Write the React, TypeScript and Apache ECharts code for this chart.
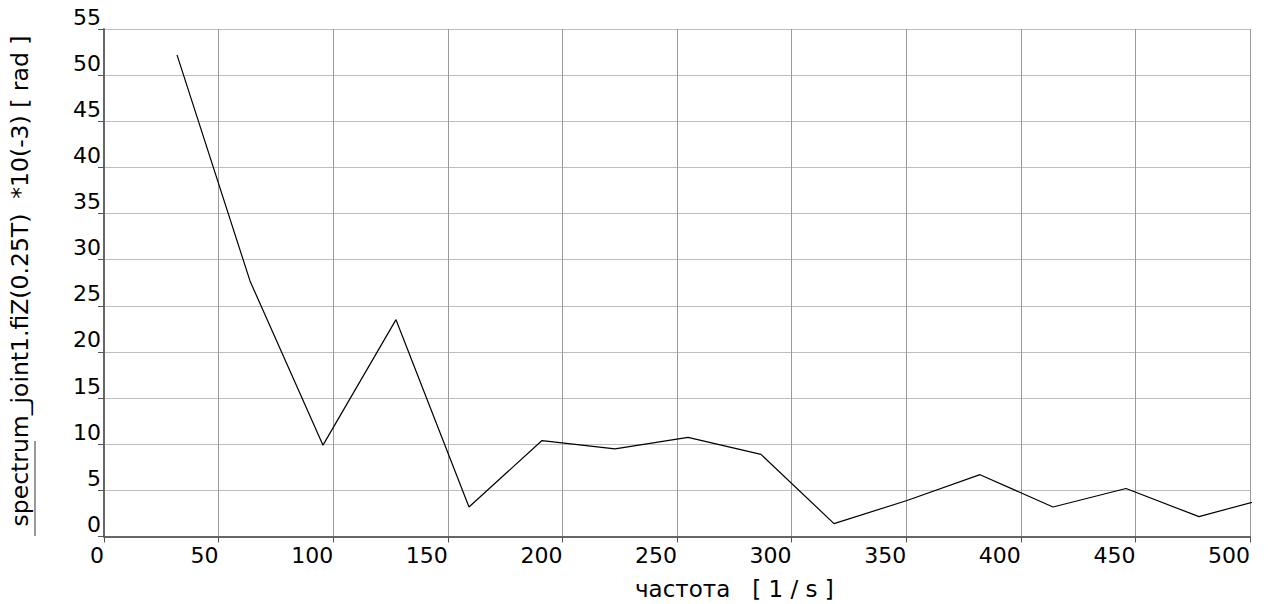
import React, { useEffect, useRef } from "react";
import * as echarts from "echarts";

const frequencies = [31.85, 63.7, 95.55, 127.4, 159.25, 191.1, 222.95, 254.8, 286.65, 318.5, 350.35, 382.2, 414.05, 445.9, 477.75, 509.6];
const amplitudes = [52.2, 27.7, 9.9, 23.5, 3.2, 10.4, 9.5, 10.75, 8.9, 1.4, 3.9, 6.7, 3.2, 5.2, 2.15, 4.3];
const yTitle = "spectrum_joint1.fiZ(0.25T)  *10(-3) [ rad ]";
const xTitle = "частота   [ 1 / s ]";

const FONT = "'DejaVu Sans', 'Liberation Sans', sans-serif";

export default function App() {
  const ref = useRef<HTMLDivElement>(null);
  useEffect(() => {
    if (!ref.current) return;
    const chart = echarts.init(ref.current, undefined, { renderer: "svg" });
    const data = frequencies.map((f, i) => [f, amplitudes[i]]);
    chart.setOption({
      animation: false,
      backgroundColor: "#ffffff",
      grid: { left: 104, top: 29, width: 1146, height: 507.5, containLabel: false },
      xAxis: {
        type: "value",
        min: 0,
        max: 500,
        interval: 50,
        axisLine: { show: true, onZero: false, lineStyle: { color: "#666", width: 2 } },
        axisTick: { show: true, inside: false, length: 6, lineStyle: { color: "#555", width: 1 } },
        axisLabel: { color: "#000", fontSize: 22, fontFamily: FONT, align: "right", margin: 8 },
        splitLine: { show: true, lineStyle: { color: "#9a9a9a", width: 1 } },
      },
      yAxis: {
        type: "value",
        min: 0,
        max: 55,
        interval: 5,
        axisLine: { show: true, onZero: false, lineStyle: { color: "#666", width: 2 } },
        axisTick: { show: true, inside: false, length: 6, lineStyle: { color: "#555", width: 1 } },
        axisLabel: {
          color: "#000",
          fontSize: 22,
          fontFamily: FONT,
          align: "right",
          verticalAlign: "bottom",
          margin: 3,
          padding: [0, 0, 1, 0],
        },
        splitLine: { show: true, lineStyle: { color: "#bdbdbd", width: 1 } },
      },
      series: [
        {
          type: "line",
          data,
          symbol: "none",
          clip: true,
          lineStyle: { color: "#000", width: 1.2 },
        },
      ],
      graphic: [
        {
          type: "text",
          x: 20,
          y: 281,
          rotation: Math.PI / 2,
          style: {
            text: yTitle,
            fontSize: 23.5,
            fontFamily: FONT,
            fill: "#000",
            align: "center",
            verticalAlign: "middle",
          },
        },
        {
          type: "line",
          shape: { x1: 35, y1: 441, x2: 35, y2: 536 },
          style: { stroke: "#333", lineWidth: 1 },
        },
        {
          type: "text",
          x: 635,
          y: 589,
          style: {
            text: xTitle,
            fontSize: 23,
            fontFamily: FONT,
            fill: "#000",
            align: "left",
            verticalAlign: "middle",
          },
        },
      ],
    });
    return () => chart.dispose();
  }, []);
  return (
    <div
      ref={ref}
      style={{ position: "fixed", left: 0, top: 0, width: 1268, height: 604, background: "#fff" }}
    />
  );
}
